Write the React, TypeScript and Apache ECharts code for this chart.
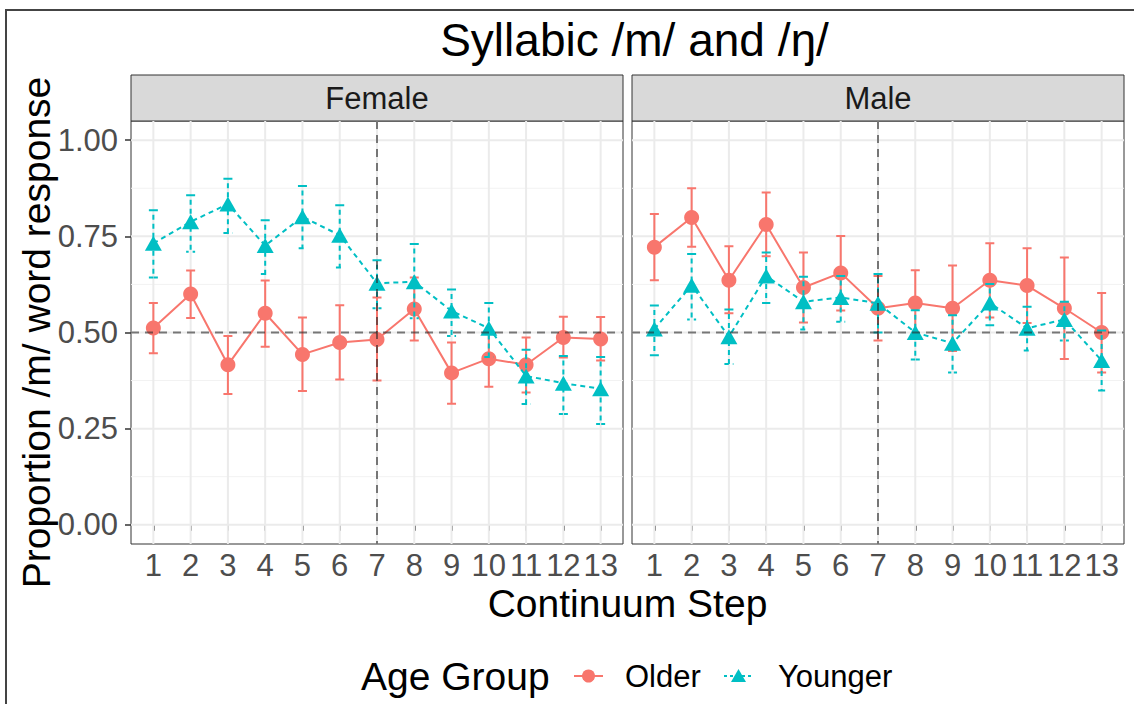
import React, { useEffect, useRef } from 'react';
import * as echarts from 'echarts';

// ---------- data ----------
const steps = [1, 2, 3, 4, 5, 6, 7, 8, 9, 10, 11, 12, 13];
const yMajor = [0, 0.25, 0.5, 0.75, 1];
const yMinor = [0.125, 0.375, 0.625, 0.875];
const refStep = 7;
const refProp = 0.5;
const panelNames = ['Female', 'Male'];
const groupNames = ['Older', 'Younger'];

const femaleOlder = [0.512, 0.600, 0.416, 0.550, 0.443, 0.474, 0.482, 0.561, 0.395, 0.432, 0.416, 0.487, 0.483];
const femaleOlderLo = [0.446, 0.538, 0.340, 0.463, 0.348, 0.378, 0.375, 0.479, 0.315, 0.359, 0.344, 0.435, 0.427];
const femaleOlderHi = [0.577, 0.661, 0.491, 0.635, 0.539, 0.571, 0.591, 0.643, 0.474, 0.505, 0.487, 0.541, 0.540];

const femaleYounger = [0.732, 0.788, 0.834, 0.726, 0.801, 0.753, 0.628, 0.632, 0.556, 0.511, 0.387, 0.368, 0.354];
const femaleYoungerLo = [0.643, 0.710, 0.759, 0.652, 0.719, 0.669, 0.563, 0.537, 0.491, 0.436, 0.314, 0.288, 0.262];
const femaleYoungerHi = [0.818, 0.857, 0.900, 0.792, 0.881, 0.831, 0.688, 0.730, 0.612, 0.577, 0.455, 0.439, 0.436];

const maleOlder = [0.722, 0.799, 0.636, 0.781, 0.617, 0.655, 0.563, 0.577, 0.563, 0.636, 0.622, 0.563, 0.500];
const maleOlderLo = [0.636, 0.723, 0.550, 0.698, 0.526, 0.557, 0.479, 0.492, 0.452, 0.539, 0.525, 0.431, 0.396];
const maleOlderHi = [0.808, 0.875, 0.724, 0.864, 0.708, 0.751, 0.647, 0.662, 0.674, 0.732, 0.719, 0.695, 0.603];

const maleYounger = [0.509, 0.623, 0.489, 0.647, 0.580, 0.591, 0.576, 0.500, 0.472, 0.577, 0.511, 0.534, 0.427];
const maleYoungerLo = [0.441, 0.534, 0.418, 0.577, 0.508, 0.528, 0.500, 0.430, 0.396, 0.519, 0.453, 0.479, 0.349];
const maleYoungerHi = [0.570, 0.704, 0.560, 0.708, 0.645, 0.647, 0.652, 0.558, 0.545, 0.626, 0.567, 0.580, 0.505];

// ---------- styling / layout ----------
const RED = '#F8766D';
const CYAN = '#00BFC4';
const FONT = "'Liberation Sans', Arial, Helvetica, sans-serif";
const PANEL_LEFTS = [131, 632];
const PANEL_TOP = 121;
const PANEL_W = 492;
const PANEL_H = 423;
const STRIP_H = 46;
const DASH = [5, 4];
const CIRCLE_SIZE = 15;
const TRI_SIZE = [17, 15];

const panelData = [
  { older: femaleOlder, olderLo: femaleOlderLo, olderHi: femaleOlderHi, younger: femaleYounger, youngerLo: femaleYoungerLo, youngerHi: femaleYoungerHi },
  { older: maleOlder, olderLo: maleOlderLo, olderHi: maleOlderHi, younger: maleYounger, youngerLo: maleYoungerLo, youngerHi: maleYoungerHi },
];

function hLines(values: number[], gi: number, stroke: string, width: number, z: number) {
  return {
    type: 'custom', xAxisIndex: gi, yAxisIndex: gi, z, silent: true,
    data: values.map((v) => [steps[0], v]),
    encode: { x: 0, y: 1 },
    renderItem: (params: any, api: any) => {
      const y = api.coord([api.value(0), api.value(1)])[1];
      const cs = params.coordSys;
      return { type: 'line', shape: { x1: cs.x, y1: y, x2: cs.x + cs.width, y2: y }, style: { stroke, lineWidth: width } };
    },
  };
}

function vLines(values: number[], gi: number, stroke: string, width: number, z: number) {
  return {
    type: 'custom', xAxisIndex: gi, yAxisIndex: gi, z, silent: true,
    data: values.map((v) => [v, yMajor[0]]),
    encode: { x: 0, y: 1 },
    renderItem: (params: any, api: any) => {
      const x = api.coord([api.value(0), api.value(1)])[0];
      const cs = params.coordSys;
      return { type: 'line', shape: { x1: x, y1: cs.y, x2: x, y2: cs.y + cs.height }, style: { stroke, lineWidth: width } };
    },
  };
}

function refLines(gi: number) {
  return {
    type: 'custom', xAxisIndex: gi, yAxisIndex: gi, z: 6, silent: true,
    data: [[refStep, refProp]],
    encode: { x: 0, y: 1 },
    renderItem: (params: any, api: any) => {
      const p = api.coord([api.value(0), api.value(1)]);
      const cs = params.coordSys;
      const style = { stroke: 'rgba(40,40,40,0.6)', lineWidth: 2, lineDash: [8, 6] };
      return {
        type: 'group',
        children: [
          { type: 'line', shape: { x1: cs.x, y1: p[1], x2: cs.x + cs.width, y2: p[1] }, style },
          { type: 'line', shape: { x1: p[0], y1: cs.y, x2: p[0], y2: cs.y + cs.height }, style },
        ],
      };
    },
  };
}

function errorBars(name: string, lo: number[], hi: number[], gi: number, color: string, dash: number[] | null, z: number) {
  return {
    type: 'custom', name, xAxisIndex: gi, yAxisIndex: gi, z, silent: true,
    data: steps.map((s, i) => [s, lo[i], hi[i]]),
    encode: { x: 0, y: [1, 2] },
    renderItem: (params: any, api: any) => {
      const x = api.value(0);
      const t = api.coord([x, api.value(2)]);
      const b = api.coord([x, api.value(1)]);
      const w = 4.5;
      return {
        type: 'polyline',
        shape: { points: [[t[0] - w, t[1]], [t[0] + w, t[1]], [t[0], t[1]], [b[0], b[1]], [b[0] - w, b[1]], [b[0] + w, b[1]]] },
        style: { stroke: color, lineWidth: 2, fill: 'none', lineDash: dash || undefined },
      };
    },
  };
}

function txt(text: string, x: number, y: number, size: number, align: string, extra: any = {}) {
  return {
    type: 'text', x, y, ...extra,
    style: { text, fontSize: size, fontFamily: FONT, fill: extra.fill || '#000', textAlign: align, textVerticalAlign: 'middle', align, verticalAlign: 'middle' },
  };
}

export default function App() {
  const ref = useRef<HTMLDivElement>(null);

  useEffect(() => {
    const chart = echarts.init(ref.current as HTMLDivElement, null, { renderer: 'svg' });

    const grids = PANEL_LEFTS.map((left) => ({
      left, top: PANEL_TOP, width: PANEL_W, height: PANEL_H,
      show: true, backgroundColor: '#fff', borderColor: '#333', borderWidth: 1,
    }));

    const xAxes = PANEL_LEFTS.map((_, gi) => ({
      type: 'value', gridIndex: gi, min: 0.4, max: 13.6,
      axisLine: { show: false },
      splitLine: { show: false },
      axisTick: { show: true, customValues: steps, length: 6, lineStyle: { color: '#333', width: 1.5 } },
      axisLabel: { show: true, customValues: steps, formatter: (v: number) => String(v), fontSize: 31, color: '#4D4D4D', fontFamily: FONT, margin: 6 },
    }));

    const yAxes = PANEL_LEFTS.map((_, gi) => ({
      type: 'value', gridIndex: gi, min: -0.05, max: 1.05,
      axisLine: { show: false },
      splitLine: { show: false },
      axisTick: { show: gi === 0, customValues: yMajor, length: 6, lineStyle: { color: '#333', width: 1.5 } },
      axisLabel: { show: gi === 0, customValues: yMajor, formatter: (v: number) => v.toFixed(2), fontSize: 31, color: '#4D4D4D', fontFamily: FONT, margin: 13 },
    }));

    const series: any[] = [];
    PANEL_LEFTS.forEach((_, gi) => {
      const d = panelData[gi];
      series.push(hLines(yMinor, gi, '#F2F2F2', 1, 1));
      series.push(hLines(yMajor, gi, '#EBEBEB', 2, 1));
      series.push(vLines(steps, gi, '#EBEBEB', 2, 1));
      series.push({
        type: 'line', name: groupNames[0], xAxisIndex: gi, yAxisIndex: gi, z: 3,
        data: steps.map((s, i) => [s, d.older[i]]),
        symbol: 'circle', symbolSize: CIRCLE_SIZE, showSymbol: true,
        lineStyle: { color: RED, width: 2 }, itemStyle: { color: RED },
      });
      series.push(errorBars('Older interval', d.olderLo, d.olderHi, gi, RED, null, 3));
      series.push({
        type: 'line', name: groupNames[1], xAxisIndex: gi, yAxisIndex: gi, z: 4,
        data: steps.map((s, i) => [s, d.younger[i]]),
        symbol: 'triangle', symbolSize: TRI_SIZE, showSymbol: true,
        lineStyle: { color: CYAN, width: 2, type: DASH }, itemStyle: { color: CYAN },
      });
      series.push(errorBars('Younger interval', d.youngerLo, d.youngerHi, gi, CYAN, DASH, 4));
      series.push(refLines(gi));
    });

    const graphics: any[] = [
      { type: 'rect', z: -10, shape: { x: 6, y: 10, width: 1140, height: 700 }, style: { fill: 'none', stroke: '#444', lineWidth: 2 } },
    ];
    PANEL_LEFTS.forEach((left, gi) => {
      graphics.push({ type: 'rect', shape: { x: left, y: PANEL_TOP - STRIP_H, width: PANEL_W, height: STRIP_H }, style: { fill: '#D9D9D9', stroke: '#333', lineWidth: 1 } });
      graphics.push(txt(panelNames[gi], left + PANEL_W / 2, PANEL_TOP - STRIP_H / 2, 31, 'center', { fill: '#1A1A1A' }));
    });
    graphics.push(txt('Continuum Step', (PANEL_LEFTS[0] + PANEL_LEFTS[1] + PANEL_W) / 2, 603, 39, 'center'));
    graphics.push(txt('Proportion /m/ word response', 36, PANEL_TOP + PANEL_H / 2, 39, 'center', { rotation: Math.PI / 2 }));

    // legend
    const LY = 676;
    graphics.push(txt('Age Group', 361, LY, 39, 'left'));
    graphics.push({ type: 'line', shape: { x1: 574, y1: LY, x2: 603, y2: LY }, style: { stroke: RED, lineWidth: 2 } });
    graphics.push({ type: 'circle', shape: { cx: 588.5, cy: LY, r: 6.5 }, style: { fill: RED } });
    graphics.push(txt(groupNames[0], 625, LY, 31, 'left'));
    graphics.push({ type: 'line', shape: { x1: 724, y1: LY, x2: 753, y2: LY }, style: { stroke: CYAN, lineWidth: 2, lineDash: [3, 3] } });
    graphics.push({ type: 'polygon', shape: { points: [[738.5, LY - 7], [746, LY + 6], [731, LY + 6]] }, style: { fill: CYAN } });
    graphics.push(txt(groupNames[1], 778, LY, 31, 'left'));

    chart.setOption({
      animation: false,
      backgroundColor: '#fff',
      title: {
        text: 'Syllabic /m/ and /ŋ/', left: (PANEL_LEFTS[0] + PANEL_LEFTS[1] + PANEL_W) / 2 + 2, top: 12, textAlign: 'center',
        textStyle: { fontSize: 46, fontWeight: 'normal', color: '#000', fontFamily: FONT },
      },
      grid: grids,
      xAxis: xAxes,
      yAxis: yAxes,
      series,
      graphic: graphics,
    });

    return () => chart.dispose();
  }, []);

  return <div ref={ref} style={{ position: 'absolute', left: 0, top: 0, width: 1134, height: 704, background: '#fff' }} />;
}
